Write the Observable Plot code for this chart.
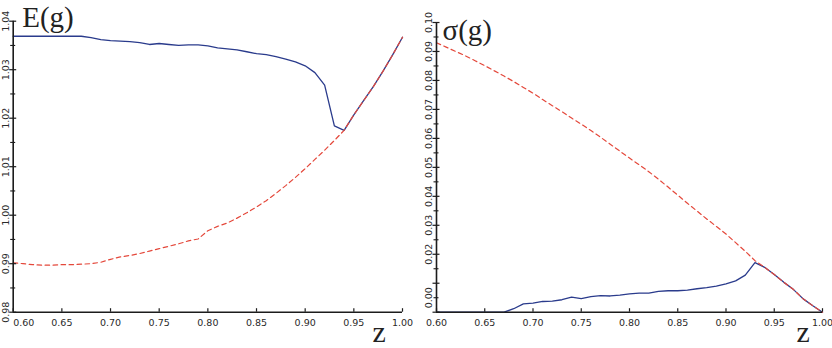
<!DOCTYPE html>
<html><head><meta charset="utf-8">
<script src="https://cdn.jsdelivr.net/npm/d3@7"></script>
<script src="https://cdn.jsdelivr.net/npm/@observablehq/plot@0.6"></script>
<style>
body{margin:0;background:#fff;}
#wrap{position:relative;width:832px;height:348px;background:#fff;}
.panel{position:absolute;top:0;}
</style></head><body>
<div id="wrap"><div id="p1" class="panel" style="left:0"></div><div id="p2" class="panel" style="left:416px"></div></div>
<script>
// ---- data ----
const z = [0.60,0.61,0.62,0.63,0.64,0.65,0.66,0.67,0.68,0.69,0.70,0.71,0.72,0.73,0.74,0.75,0.76,0.77,0.78,0.79,0.80,
           0.81,0.82,0.83,0.84,0.85,0.86,0.87,0.88,0.89,0.90,0.91,0.92,0.93,0.94,0.95,0.96,0.97,0.98,0.99,1.00];
// E(g): solid blue
const meanSolid = [1.0369,1.0369,1.0369,1.0369,1.0369,1.0369,1.0369,1.0369,1.0366,1.0362,1.0360,1.0359,1.0358,1.0356,1.0352,1.0354,1.0352,1.0350,1.0351,1.0351,1.0349,
                   1.0345,1.0343,1.0341,1.0337,1.0333,1.0331,1.0327,1.0322,1.0316,1.0308,1.0294,1.0268,1.0184,1.0175,1.0207,1.0236,1.0265,1.0297,1.0331,1.0367];
// E(g): dashed red
const meanDashed = [0.9902,0.9900,0.9898,0.9897,0.9897,0.9898,0.9898,0.9899,0.9900,0.9903,0.9909,0.9914,0.9917,0.9921,0.9926,0.9931,0.9936,0.9941,0.9947,0.9951,0.9968,
                    0.9977,0.9984,0.9994,1.0005,1.0017,1.0030,1.0045,1.0061,1.0078,1.0096,1.0115,1.0134,1.0154,1.0175,1.0207,1.0236,1.0265,1.0297,1.0331,1.0367];
// sigma(g): solid blue
const sdSolid = [0,0,0,0,0,0,0,0,0.0012,0.0029,0.0031,0.0037,0.0038,0.0043,0.0052,0.0047,0.0054,0.0057,0.0056,0.0059,0.0063,
                 0.0066,0.0066,0.0072,0.0074,0.0074,0.0076,0.0081,0.0085,0.0090,0.0098,0.0108,0.0128,0.0171,0.0155,0.0130,0.0103,0.0078,0.0046,0.0022,0];
// sigma(g): dashed red
const sdDashed = [0.0930,0.0915,0.0900,0.0885,0.0868,0.0851,0.0833,0.0815,0.0796,0.0776,0.0756,0.0734,0.0713,0.0692,0.0670,0.0649,0.0627,0.0604,0.0580,0.0556,0.0532,
                  0.0509,0.0485,0.0459,0.0432,0.0404,0.0376,0.0349,0.0322,0.0296,0.0270,0.0240,0.0210,0.0178,0.0155,0.0130,0.0103,0.0078,0.0046,0.0022,0];

const xTicks = [0.60,0.65,0.70,0.75,0.80,0.85,0.90,0.95,1.00];
const xTickLabels = ["0.60","0.65","0.70","0.75","0.80","0.85","0.90","0.95","1.00"];

const eMajor = [0.98,0.99,1.00,1.01,1.02,1.03,1.04];
const eMinor = [0.985,0.995,1.005,1.015,1.025,1.035];
const eLabelPos = [0.98,0.99,1.00,1.01,1.02,1.03,1.04];
const eLabels = ["0.98","0.99","1.00","1.01","1.02","1.03","1.04"];

const sMajor = [0.00,0.01,0.02,0.03,0.04,0.05,0.06,0.07,0.08,0.09,0.10];
const sMinor = [0.005,0.015,0.025,0.035,0.045,0.055,0.065,0.075,0.085,0.095];
const sLabelPos = [0.005,0.02,0.03,0.04,0.05,0.06,0.07,0.08,0.09,0.10];
const sLabels = ["0.00","0.02","0.03","0.04","0.05","0.06","0.07","0.08","0.09","0.10"];

const blueColor = "#2a3b8c";
const redColor = "#e4483b";
const axisColor = "#1c1c1c";
const labelFont = "DejaVu Sans";
const titleFont = "Liberation Serif";

function panel(o) {
  const rows = z.map((v, i) => ({z: v, solid: o.solid[i], dashed: o.dashed[i]}));
  const [y0, y1] = o.yDomain;
  return Plot.plot({
    width: 416, height: 348,
    marginLeft: o.mLeft, marginRight: o.mRight, marginTop: o.mTop, marginBottom: 36.3,
    x: {domain: [0.6, 1.0], axis: null},
    y: {domain: o.yDomain, axis: null},
    style: {background: "white", overflow: "visible", fontFamily: labelFont},
    marks: [
      Plot.line(rows, {x: "z", y: "solid", stroke: blueColor, strokeWidth: 1.3}),
      Plot.line(rows, {x: "z", y: "dashed", stroke: redColor, strokeWidth: 1.2, strokeDasharray: "4.5,3.5"}),
      // axis lines
      Plot.ruleX([0.6], {y1: y0, y2: y1, stroke: axisColor, strokeWidth: 1.6}),
      Plot.ruleY([y0], {x1: 0.6, x2: 1.0, stroke: axisColor, strokeWidth: 1.6}),
      // y ticks
      Plot.ruleY(o.major, {x1: 0.6, x2: 0.6, insetLeft: -3.5, insetRight: -3.5, stroke: axisColor, strokeWidth: 1.2}),
      Plot.ruleY(o.minor, {x1: 0.6, x2: 0.6, insetLeft: -2.5, insetRight: -2.5, stroke: axisColor, strokeWidth: 1.1}),
      // x ticks
      Plot.ruleX(xTicks, {y1: y0, y2: y0, insetTop: -3.5, insetBottom: 0, stroke: axisColor, strokeWidth: 1.2}),
      // x tick labels
      Plot.text(xTicks, {filter: (d, i) => !(o.firstStart && i === 0), x: d => d, y: y0, text: (d, i) => xTickLabels[i],
        dy: 11, fontSize: 9.5, fill: "#2a2a2a", fontFamily: labelFont}),
      Plot.text(xTicks, {filter: (d, i) => o.firstStart && i === 0, x: d => d, y: y0, text: (d, i) => xTickLabels[i],
        dy: 11, textAnchor: "start", fontSize: 9.5, fill: "#2a2a2a", fontFamily: labelFont}),
      // y tick labels (rotated)
      Plot.text(o.labelPos, {x: 0.6, y: d => d, text: (d, i) => o.labels[i], rotate: -90, dx: -7.5,
        fontSize: 9.5, fill: "#2a2a2a", fontFamily: labelFont}),
      // title
      Plot.text([o.title], {frameAnchor: "top-left", text: d => d, textAnchor: "start", lineAnchor: "bottom",
        dx: o.titleDx, dy: o.titleDy, fontSize: 29, fontFamily: titleFont, fill: "#222"}),
      // x label
      Plot.text(["z"], {frameAnchor: "bottom-right", text: d => d, textAnchor: "start", lineAnchor: "bottom",
        dx: o.zDx, dy: 30, fontSize: 30, fontFamily: titleFont, fill: "#222"})
    ]
  });
}

document.getElementById("p1").append(panel({
  solid: meanSolid, dashed: meanDashed, yDomain: [0.98, 1.04],
  major: eMajor, minor: eMinor, labelPos: eLabelPos, labels: eLabels,
  mLeft: 12.7, mRight: 14, mTop: 20.7, title: "E(g)", titleDx: 9, titleDy: 5.3, zDx: -30, firstStart: true
}));
document.getElementById("p2").append(panel({
  solid: sdSolid, dashed: sdDashed, yDomain: [0, 0.10],
  major: sMajor, minor: sMinor, labelPos: sLabelPos, labels: sLabels,
  mLeft: 20, mRight: 10, mTop: 22, title: "σ(g)", titleDx: 6, titleDy: 17, zDx: -26, firstStart: false
}));
</script>
</body></html>
